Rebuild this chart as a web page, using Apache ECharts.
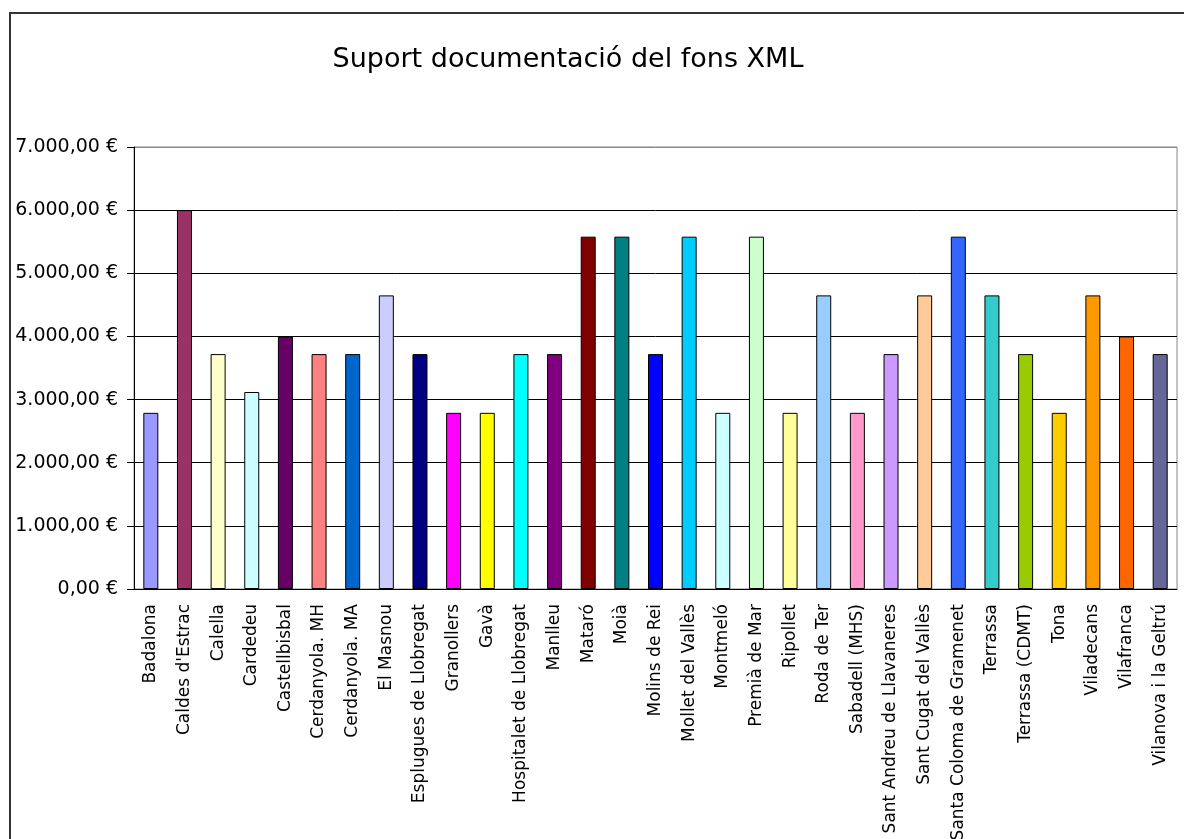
<!DOCTYPE html>
<html>
<head>
<meta charset="utf-8">
<script src="https://cdn.jsdelivr.net/npm/echarts@6/dist/echarts.min.js"></script>
<style>
  html, body { margin: 0; padding: 0; background: #fff; }
  #chart { width: 1184px; height: 839px; }
</style>
</head>
<body>
<div id="chart"></div>
<script>
  var municipis = ['Badalona', "Caldes d'Estrac", 'Calella', 'Cardedeu', 'Castellbisbal',
    'Cerdanyola. MH', 'Cerdanyola. MA', 'El Masnou', 'Esplugues de Llobregat', 'Granollers',
    'Gavà', 'Hospitalet de Llobregat', 'Manlleu', 'Mataró', 'Moià', 'Molins de Rei',
    'Mollet del Vallès', 'Montmeló', 'Premià de Mar', 'Ripollet', 'Roda de Ter',
    'Sabadell (MHS)', 'Sant Andreu de Llavaneres', 'Sant Cugat del Vallès',
    'Santa Coloma de Gramenet', 'Terrassa', 'Terrassa (CDMT)', 'Tona', 'Viladecans',
    'Vilafranca', 'Vilanova i la Geltrú']

  var imports = [2790, 6000, 3720, 3120, 4000, 3720, 3720, 4650, 3720, 2790,
    2790, 3720, 3720, 5580, 5580, 3720, 5580, 2790, 5580, 2790, 4650,
    2790, 3720, 4650, 5580, 4650, 3720, 2790, 4650, 4000, 3720]

  var yTicks = [0, 1000, 2000, 3000, 4000, 5000, 6000, 7000]

  // paleta d'Excel, una per barra
  var colors = ['#9999FF', '#993366', '#FFFFCC', '#CCFFFF', '#660066', '#FF8080', '#0066CC',
    '#CCCCFF', '#000080', '#FF00FF', '#FFFF00', '#00FFFF', '#800080', '#800000', '#008080',
    '#0000FF', '#00CCFF', '#CCFFFF', '#CCFFCC', '#FFFF99', '#99CCFF', '#FF99CC', '#CC99FF',
    '#FFCC99', '#3366FF', '#33CCCC', '#99CC00', '#FFCC00', '#FF9900', '#FF6600', '#666699']

  var euro = function (v) {
    var s = Math.round(v).toString().replace(/\B(?=(\d{3})+(?!\d))/g, '.')
    return s + ',00 €'
  }

  var chart = echarts.init(document.getElementById('chart'))
  chart.setOption({
    animation: false,
    backgroundColor: '#fff',
    textStyle: { fontFamily: 'DejaVu Sans, Arial, sans-serif' },
    title: {
      text: 'Suport documentació del fons XML',
      left: 563,
      top: 41,
      textAlign: 'center',
      textStyle: { fontSize: 27, fontWeight: 'normal', color: '#000', fontFamily: 'DejaVu Sans' }
    },
    graphic: [{
      type: 'rect',
      shape: { x: 10, y: 13, width: 1300, height: 1000 },
      style: { fill: 'none', stroke: '#333', lineWidth: 2 },
      silent: true,
      z: 100
    }],
    grid: {
      left: 134,
      right: 7,
      top: 147,
      bottom: 250,
      outerBoundsMode: 'none',
      show: true,
      backgroundColor: '#fff',
      borderColor: '#888',
      borderWidth: 1
    },
    xAxis: {
      type: 'category',
      data: municipis,
      axisLine: { lineStyle: { color: '#000', width: 1 } },
      axisTick: { alignWithLabel: false, length: 5, lineStyle: { color: '#000' } },
      axisLabel: {
        interval: 0,
        rotate: 90,
        margin: 15,
        fontSize: 17,
        color: '#000'
      }
    },
    yAxis: {
      type: 'value',
      min: yTicks[0],
      max: yTicks[yTicks.length - 1],
      interval: 1000,
      axisLine: { show: true, lineStyle: { color: '#000', width: 1 } },
      axisTick: { show: true, length: 7, lineStyle: { color: '#000' } },
      axisLabel: { formatter: euro, fontSize: 19, color: '#000', margin: 16 },
      splitLine: {
        lineStyle: {
          color: ['#000', '#000', '#000', '#000', '#000', '#000', '#000', '#888'],
          width: 1
        }
      }
    },
    series: [{
      type: 'bar',
      data: imports,
      barWidth: 15,
      itemStyle: {
        color: function (p) { return colors[p.dataIndex] },
        borderColor: '#000',
        borderWidth: 1
      }
    }]
  })
</script>
</body>
</html>
